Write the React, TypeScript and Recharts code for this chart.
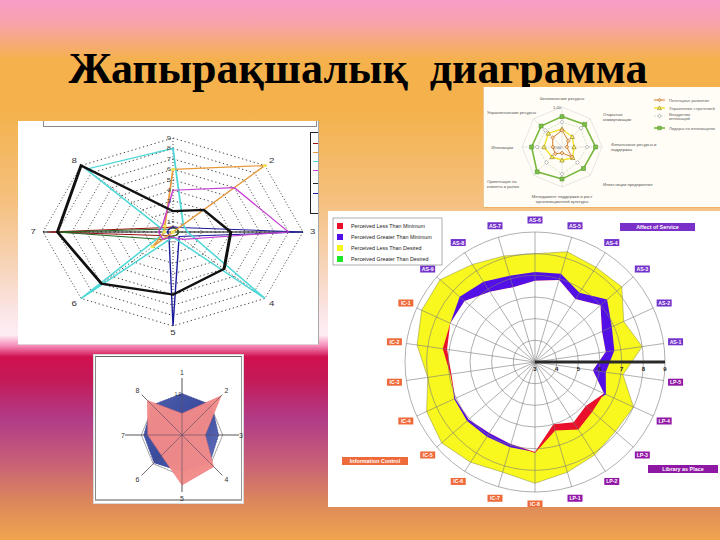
import React from "react";
import { RadarChart, Radar, PolarGrid, PolarAngleAxis, PolarRadiusAxis } from "recharts";

// top-left "spike" chart, 8 axes, scale 0..9
const spikeAxes = ["1", "2", "3", "4", "5", "6", "7", "8"];
const spikeBlack = [2, 3, 4, 5, 6, 7, 8, 9];
const spikeCyan = [8, 1, 1, 9, 0.5, 9, 0.5, 8.5];
const spikeOrange = [6, 9, 0, 0, 0, 2, 0.6, 0.8];
const spikeViolet = [4, 6, 8, 1, 0.5, 1, 1, 1];
const spikeNavy = [0.5, 0.6, 9, 0.6, 9, 0.4, 0.4, 0.4];
const spikeRed = [0.5, 0.4, 0.4, 0.4, 0.4, 0.5, 8.6, 0.6];
const spikeGreen = [0.4, 0.4, 0.4, 0.4, 0.4, 1, 8, 0.4];
const spikeCross = [0, 0, 9, 0, 0, 0, 9, 0];

// top-right maturity chart, scale 0..0.8
const maturityAxes = [
  "Человеческие ресурсы",
  "Открытые\nкоммуникации",
  "Финансовые ресурсы и\nподдержка",
  "Инвестиции предприятия",
  "Менеджмент поддержки и рост\nорганизационной культуры",
  "Ориентация на\nклиента и рынок",
  "Инновации",
  "Управленческие ресурсы",
];
const maturityStarters = [0.42, 0.22, 0.12, 0.35, 0.15, 0.24, 0.23, 0.33];
const maturityManagers = [0.45, 0.36, 0.3, 0.38, 0.33, 0.35, 0.45, 0.48];
const maturityAdopters = [0.62, 0.67, 0.63, 0.55, 0.68, 0.55, 0.62, 0.59];
const maturityLeaders = [0.76, 0.8, 0.84, 0.76, 0.8, 0.88, 0.76, 0.74];
const maturityNames = ["Потенциал развития", "Управление стратегией", "Внедрение\nинноваций", "Лидеры по инновациям"];

// bottom-left filled chart, scale 0..1.4
const fanAxes = ["1", "2", "3", "4", "5", "6", "7", "8"];
const fanBlue = [1.02, 1.04, 0.9, 0.97, 0.9, 0.97, 0.94, 1.04];
const fanPink = [0.53, 1.36, 0.57, 1.1, 1.23, 0.71, 0.84, 1.2];

// right LibQUAL gap chart, scale 3..9
const gapItems = [
  "AS-6", "AS-5", "AS-4", "AS-3", "AS-2", "AS-1",
  "LP-5", "LP-4", "LP-3", "LP-2", "LP-1",
  "IC-8", "IC-7", "IC-6", "IC-5", "IC-4", "IC-3", "IC-2", "IC-1",
  "AS-9", "AS-8", "AS-7",
];
const gapDesired = [8.0, 8.3, 8.2, 8.3, 7.5, 8.0, 7.1, 8.0, 7.9, 8.1, 8.3, 8.6, 8.3, 8.5, 8.7, 8.5, 8.0, 8.5, 8.75, 8.8, 8.35, 8.1];
const gapPerceived = [7.15, 7.25, 6.8, 7.4, 6.9, 6.7, 6.3, 6.6, 6.1, 6.3, 6.0, 7.15, 7.1, 7.1, 7.15, 7.1, 6.9, 7.1, 7.3, 7.6, 7.4, 7.15];
const gapMinimum = [6.75, 6.95, 6.45, 7.0, 6.4, 6.3, 5.7, 6.5, 6.5, 6.7, 6.3, 7.2, 6.95, 6.9, 7.05, 7.05, 6.95, 7.3, 7.3, 7.3, 6.85, 6.6];
const gapLegend = ["Perceived Less Than Minimum", "Perceived Greater Than Minimum", "Perceived Less Than Desired", "Perceived Greater Than Desired"];
const gapLegendColors = ["#e8102a", "#5310e6", "#f6f61e", "#1ee62a"];

const sans = "'Liberation Sans', Arial, sans-serif";

const polarPoint = (cx: number, cy: number, r: number, index: number, n: number) => {
  const a = (Math.PI / 180) * (90 - (index * 360) / n);
  return { x: cx + r * Math.cos(a), y: cy - r * Math.sin(a), cos: Math.cos(a) };
};

const noMargin = { top: 0, right: 0, bottom: 0, left: 0 };

/* ---------------- top-left ---------------- */
const SP_CX = 105, SP_CY = 112, SP_R = 94;

function SpikePanel() {
  const data = spikeAxes.map((axis, i) => ({
    axis,
    black: spikeBlack[i],
    cyan: spikeCyan[i],
    orange: spikeOrange[i],
    violet: spikeViolet[i],
    navy: spikeNavy[i],
    red: spikeRed[i],
    green: spikeGreen[i],
    cross: spikeCross[i],
  }));
  const angleTick = (p: any) => {
    const i = spikeAxes.indexOf(p.payload.value);
    if (i === 0) return <g />;
    const pt = polarPoint(SP_CX, SP_CY, 101, i, spikeAxes.length);
    return (
      <text x={pt.x} y={pt.y + 2.5} textAnchor="middle" fontSize={7} fill="#333" fontFamily={sans}>
        {p.payload.value}
      </text>
    );
  };
  const ringTick = (p: any) =>
    p.payload.value === 0 ? <g /> : (
      <text x={p.x - 1.5} y={p.y + 2} textAnchor="end" fontSize={5.5} fill="#444" fontFamily={sans}>
        {p.payload.value}
      </text>
    );
  const line = (key: string, color: string, w = 1) => (
    <Radar key={key} dataKey={key} stroke={color} strokeWidth={w} fill="none" dot={false} isAnimationActive={false} />
  );
  return (
    <div style={{ position: "absolute", left: 18, top: 121, width: 300, height: 223, background: "#fff", overflow: "hidden", borderRight: "1px solid #a8a8a8", borderBottom: "1px solid #e4d0d8" }}>
      <div style={{ position: "absolute", left: 25, top: -7, width: 272, height: 11, border: "1px solid #8a8a8a" }} />
      <div style={{ position: "absolute", left: 50, top: -1, transform: "scaleX(1.383)", transformOrigin: `${SP_CX}px ${SP_CY}px` }}>
        <RadarChart width={210} height={225} cx={SP_CX} cy={SP_CY} outerRadius={SP_R} data={data} margin={noMargin}>
          <PolarGrid stroke="#222" strokeWidth={0.7} strokeDasharray="1 2" />
          <PolarAngleAxis dataKey="axis" tick={angleTick} axisLine={false} tickLine={false} />
          <PolarRadiusAxis angle={90} domain={[0, 9]} tickCount={10} tick={ringTick} axisLine={false} tickLine={false} />
          {line("cross", "#111", 0.8)}
          {line("red", "#9a1010")}
          {line("green", "#1f6a1f")}
          {line("navy", "#1a1a9a")}
          {line("cyan", "#4fd8d8", 1.3)}
          <Radar
            dataKey="orange"
            stroke="#e89a3a"
            strokeWidth={1.2}
            fill="none"
            isAnimationActive={false}
            dot={(p: any) => <circle key={`o${p.index}`} cx={p.cx} cy={p.cy} r={1.6} fill="#f2e25a" />}
          />
          {line("violet", "#c43ed0", 1.1)}
          {line("black", "#111", 2.2)}
        </RadarChart>
      </div>
      <div style={{ position: "absolute", left: 292, top: 11, width: 20, height: 80, border: "1px solid #222", background: "#fff" }}>
        {["#9a1010", "#e89a3a", "#4fd8d8", "#c43ed0", "#222", "#1a1a9a"].map((c, i) => (
          <div key={c} style={{ position: "absolute", left: 2, top: 10 + i * (i < 4 ? 9 : 10), width: 6, height: 1, background: c }} />
        ))}
      </div>
    </div>
  );
}

/* ---------------- top-right ---------------- */
const MT_CX = 78, MT_CY = 60, MT_R = 40;
const maturityLabelAt = [
  { x: 78, y: 13, a: "middle" },
  { x: 119, y: 29, a: "start" },
  { x: 127, y: 59, a: "start" },
  { x: 119, y: 99, a: "start" },
  { x: 78, y: 111, a: "middle" },
  { x: 3, y: 96, a: "start" },
  { x: 29, y: 62, a: "end" },
  { x: 52, y: 27, a: "end" },
];

const diamond = (cx: number, cy: number, s: number) => `M${cx},${cy - s}L${cx + s},${cy}L${cx},${cy + s}L${cx - s},${cy}Z`;
const triangle = (cx: number, cy: number, s: number) => `M${cx},${cy - s}L${cx + s},${cy + s * 0.8}L${cx - s},${cy + s * 0.8}Z`;
const square = (cx: number, cy: number, s: number) => `M${cx - s},${cy - s}h${2 * s}v${2 * s}h${-2 * s}Z`;

const maturityStyles = [
  { key: "starters", stroke: "#d5802e", width: 1, dash: undefined, shape: diamond, size: 2, fill: "#f4c890", edge: "#a85a18" },
  { key: "managers", stroke: "#f2e42a", width: 1.4, dash: undefined, shape: triangle, size: 2.2, fill: "#fff56a", edge: "#6a5a00" },
  { key: "adopters", stroke: "#b8d8a8", width: 0.7, dash: "2 1.5", shape: diamond, size: 2, fill: "#fff", edge: "#777" },
  { key: "leaders", stroke: "#78b83c", width: 1.6, dash: undefined, shape: square, size: 2, fill: "#7cc04a", edge: "#4a8a2a" },
];

function MaturityPanel() {
  const data = maturityAxes.map((axis, i) => ({
    axis,
    starters: maturityStarters[i],
    managers: maturityManagers[i],
    adopters: maturityAdopters[i],
    leaders: maturityLeaders[i],
  }));
  const angleTick = (p: any) => {
    const i = maturityAxes.indexOf(p.payload.value);
    const at = maturityLabelAt[i];
    const lines = String(p.payload.value).split("\n");
    return (
      <text x={at.x} y={at.y} textAnchor={at.a} fontSize={4.2} fill="#555" fontFamily={sans}>
        {lines.map((l, k) => (
          <tspan key={k} x={at.x} dy={k === 0 ? 0 : 5}>{l}</tspan>
        ))}
      </text>
    );
  };
  const ringTick = (p: any) => (
    <text x={p.x - 5} y={p.y + 1.5} textAnchor="middle" fontSize={4} fill="#555" fontFamily={sans}>
      {Number(p.payload.value).toFixed(2).replace(".", ",")}
    </text>
  );
  return (
    <div style={{ position: "absolute", left: 483, top: 87, width: 237, height: 121, background: "#fffdf6", borderLeft: "1px solid #f0c890", borderBottom: "1px solid #f0b060", boxSizing: "border-box" }}>
      <div style={{ position: "absolute", left: 0, top: 0 }}>
        <RadarChart width={236} height={120} cx={MT_CX} cy={MT_CY} outerRadius={MT_R} data={data} margin={noMargin}>
          <PolarGrid stroke="#cfcfcf" strokeWidth={0.5} />
          <PolarAngleAxis dataKey="axis" tick={angleTick} axisLine={false} tickLine={false} />
          <PolarRadiusAxis angle={90} domain={[0, 0.8]} tickCount={5} tick={ringTick} axisLine={false} tickLine={false} />
          {[...maturityStyles].reverse().map((s) => (
            <Radar
              key={s.key}
              dataKey={s.key}
              stroke={s.stroke}
              strokeWidth={s.width}
              strokeDasharray={s.dash}
              fill="none"
              isAnimationActive={false}
              dot={(p: any) => <path key={`${s.key}${p.index}`} d={s.shape(p.cx, p.cy, s.size)} fill={s.fill} stroke={s.edge} strokeWidth={0.5} />}
            />
          ))}
        </RadarChart>
      </div>
      <svg style={{ position: "absolute", left: 0, top: 0 }} width={236} height={120}>
        {maturityNames.map((name, i) => {
          const s = maturityStyles[i];
          const y = [13, 21, 29, 41][i];
          return (
            <g key={name}>
              <line x1={170} x2={181} y1={y} y2={y} stroke={s.stroke} strokeWidth={s.width} strokeDasharray={s.dash} />
              <path d={s.shape(175.5, y, s.size * 0.9)} fill={s.fill} stroke={s.edge} strokeWidth={0.5} />
              <text x={185} y={y + 1.5} fontSize={4.2} fill="#666" fontFamily={sans}>
                {name.split("\n").map((l, k) => (
                  <tspan key={k} x={185} dy={k === 0 ? (name.includes("\n") ? -2 : 0) : 4.6}>{l}</tspan>
                ))}
              </text>
            </g>
          );
        })}
      </svg>
    </div>
  );
}

/* ---------------- bottom-left ---------------- */
const FN_CX = 89, FN_CY = 81, FN_R = 57;

function FanPanel() {
  const data = fanAxes.map((axis, i) => ({ axis, blue: fanBlue[i], pink: fanPink[i] }));
  const angleTick = (p: any) => {
    const i = fanAxes.indexOf(p.payload.value);
    const pt = polarPoint(FN_CX, FN_CY, i % 4 === 2 ? 59 : 63, i, fanAxes.length);
    return (
      <text x={pt.x} y={pt.y + 2.5} textAnchor="middle" fontSize={7} fill="#333" fontFamily={sans}>
        {p.payload.value}
      </text>
    );
  };
  const ringTick = (p: any) =>
    p.payload.value === 0 ? <g /> : (
      <text x={p.x - 1} y={p.y + 1.5} textAnchor="end" fontSize={4.5} fill="#222" fontFamily={sans}>
        {Number(p.payload.value).toFixed(1)}
      </text>
    );
  return (
    <div style={{ position: "absolute", left: 93, top: 354, width: 151, height: 150, background: "#fff", border: "1px solid #d8d8d8", boxSizing: "border-box" }}>
      <div style={{ position: "absolute", left: 1, top: 1, right: 1, bottom: 2, borderTop: "1px solid #666", borderLeft: "1px solid #888", borderRight: "1px solid #999", borderBottom: "2px solid #aaa" }} />
      <div style={{ position: "absolute", left: -1, top: -1 }}>
        <RadarChart width={151} height={150} cx={FN_CX} cy={FN_CY} outerRadius={FN_R} data={data} margin={noMargin}>
          <PolarGrid stroke="#666" strokeWidth={0.6} />
          <PolarAngleAxis dataKey="axis" tick={angleTick} axisLine={false} tickLine={false} />
          <PolarRadiusAxis angle={90} domain={[0, 1.4]} tickCount={8} tick={false} axisLine={false} tickLine={false} />
          <Radar dataKey="blue" stroke="#2f3f92" strokeWidth={0.6} strokeDasharray="2 1" fill="url(#fanBlueShade)" fillOpacity={1} isAnimationActive={false} />
          <Radar dataKey="pink" stroke="#e87070" strokeWidth={0.5} fill="#f28a88" fillOpacity={0.97} isAnimationActive={false} />
        </RadarChart>
      </div>
      <div style={{ position: "absolute", left: -1, top: -1 }}>
        <RadarChart width={151} height={150} cx={FN_CX} cy={FN_CY} outerRadius={FN_R} data={data} margin={noMargin}>
          <PolarGrid stroke="#5a4a60" strokeWidth={0.6} polarRadius={[0.01]} />
          <PolarAngleAxis dataKey="axis" tick={false} axisLine={false} tickLine={false} />
          <PolarRadiusAxis angle={90} domain={[0, 1.4]} tickCount={8} tick={ringTick} axisLine={false} tickLine={false} />
          <Radar dataKey="blue" stroke="none" fill="none" isAnimationActive={false} />
        </RadarChart>
      </div>
    </div>
  );
}

/* ---------------- right ---------------- */
const GP_W = 392, GP_H = 296, GP_CX = 207, GP_CY = 151, GP_R = 130;

function GapPanel() {
  const data = gapItems.map((item, i) => ({
    item,
    desired: gapDesired[i],
    perceived: gapPerceived[i],
    minimum: gapMinimum[i],
    floor: Math.min(gapPerceived[i], gapMinimum[i]),
  }));
  const common = { width: GP_W, height: GP_H, cx: GP_CX, cy: GP_CY, outerRadius: GP_R, data, margin: noMargin };
  const itemTick = (p: any) => {
    const i = gapItems.indexOf(p.payload.value);
    const pt = polarPoint(GP_CX, GP_CY, 142, i, gapItems.length);
    const g = String(p.payload.value).slice(0, 2);
    const fill = g === "IC" ? "#ef6a3a" : g === "LP" ? "#9218a6" : "#7432cc";
    return (
      <g>
        <rect x={pt.x - 7.5} y={pt.y - 3.5} width={15} height={7} fill={fill} />
        <text x={pt.x} y={pt.y + 2} textAnchor="middle" fontSize={5.2} fontWeight="bold" fill="#fff" fontFamily={sans}>
          {p.payload.value}
        </text>
      </g>
    );
  };
  const scaleTick = (p: any) => (
    <text x={p.x} y={p.y + 9} textAnchor="middle" fontSize={6} fontWeight="bold" fill="#222" fontFamily={sans}>
      {p.payload.value}
    </text>
  );
  return (
    <div style={{ position: "absolute", left: 328, top: 211, width: GP_W, height: GP_H, background: "#fff" }}>
      <div style={{ position: "absolute", left: 0, top: 0 }}>
        <RadarChart {...common}>
          <PolarAngleAxis dataKey="item" tick={false} axisLine={false} tickLine={false} />
          <PolarRadiusAxis domain={[3, 9]} tickCount={7} tick={false} axisLine={false} tickLine={false} />
          <Radar dataKey="desired" stroke="#8a8a40" strokeWidth={0.5} fill="#f8f81e" fillOpacity={1} isAnimationActive={false} />
          <Radar dataKey="perceived" stroke="none" fill="#5310e6" fillOpacity={1} isAnimationActive={false} />
          <Radar dataKey="minimum" stroke="none" fill="#e8102a" fillOpacity={1} isAnimationActive={false} />
          <Radar dataKey="floor" stroke="none" fill="#fff" fillOpacity={1} isAnimationActive={false} />
        </RadarChart>
      </div>
      <div style={{ position: "absolute", left: 0, top: 0 }}>
        <RadarChart {...common}>
          <PolarGrid gridType="circle" stroke="#7a7a7a" strokeWidth={0.6} />
          <PolarAngleAxis dataKey="item" tick={itemTick} axisLine={false} tickLine={false} />
          <PolarRadiusAxis angle={0} domain={[3, 9]} tickCount={7} tick={scaleTick} axisLine={{ stroke: "#2a2a2a", strokeWidth: 3 }} tickLine={false} />
          <Radar dataKey="desired" stroke="none" fill="none" isAnimationActive={false} />
        </RadarChart>
      </div>
      <svg style={{ position: "absolute", left: 0, top: 0 }} width={GP_W} height={GP_H}>
        <rect x={5} y={7} width={109} height={47} fill="#fff" stroke="#8a8a8a" strokeWidth={0.7} />
        {gapLegend.map((name, i) => (
          <g key={name}>
            <rect x={9} y={12 + i * 11} width={6} height={6} fill={gapLegendColors[i]} />
            <text x={23} y={17 + i * 11} fontSize={5.4} fill="#222" fontFamily={sans}>{name}</text>
          </g>
        ))}
        <rect x={292} y={12} width={75} height={8} fill="#7a30c8" />
        <text x={329.5} y={18} textAnchor="middle" fontSize={5.4} fontWeight="bold" fill="#fff" fontFamily={sans}>Affect of Service</text>
        <rect x={320} y={254} width={70} height={8} fill="#8e18a4" />
        <text x={355} y={260} textAnchor="middle" fontSize={5.4} fontWeight="bold" fill="#fff" fontFamily={sans}>Library as Place</text>
        <rect x={14} y={246} width={66} height={8} fill="#ef6a3a" />
        <text x={47} y={252} textAnchor="middle" fontSize={5.4} fontWeight="bold" fill="#fff" fontFamily={sans}>Information Control</text>
      </svg>
    </div>
  );
}

export default function App() {
  return (
    <div
      style={{
        position: "absolute",
        left: 0,
        top: 0,
        width: 720,
        height: 540,
        overflow: "hidden",
        background:
          "linear-gradient(180deg, #f89cc8 0px, #f7a4a8 25px, #f5b14c 60px, #f4b24c 110px, #f5c07e 200px, #f7d4b8 265px, #fbe4e4 310px, #fdeef4 335px, #f58ab8 346px, #d01050 357px, #c41a58 380px, #b13c88 420px, #c65e78 460px, #de8a5a 505px, #f0a44e 540px)",
      }}
    >
      <svg width={0} height={0} style={{ position: "absolute" }}>
        <defs>
          <linearGradient id="fanBlueShade" x1="0" y1="0" x2="1" y2="1">
            <stop offset="0%" stopColor="#5060b0" />
            <stop offset="50%" stopColor="#3a4a9c" />
            <stop offset="100%" stopColor="#6a78c0" />
          </linearGradient>
        </defs>
      </svg>
      <div
        style={{
          position: "absolute",
          left: 0,
          top: 47,
          width: 716,
          textAlign: "center",
          fontFamily: "'Liberation Serif', 'Times New Roman', serif",
          fontWeight: "bold",
          fontSize: 44,
          lineHeight: "44px",
          whiteSpace: "pre",
          color: "#000",
        }}
      >
        {"Жапырақшалық  диаграмма"}
      </div>
      <SpikePanel />
      <FanPanel />
      <GapPanel />
      <div style={{ position: "absolute", left: 523, top: 84, width: 7, height: 5, background: "#000" }} />
      <MaturityPanel />
    </div>
  );
}
